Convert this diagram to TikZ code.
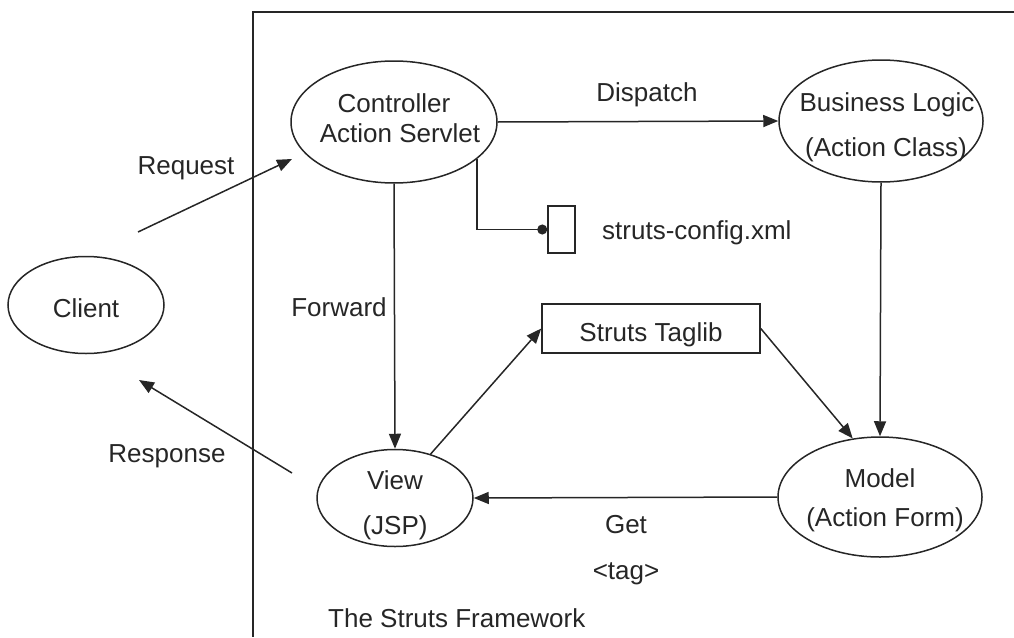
\documentclass[tikz,border=0pt]{standalone}
\usepackage{fontspec}
\setmainfont{Liberation Sans}
\usetikzlibrary{shapes.geometric,arrows.meta}
\begin{document}
\begin{tikzpicture}[x=1pt,y=-1pt,
  ink/.style={line width=1.5pt, draw=black!85},
  arr/.style={ink, -{Triangle[length=15pt,width=12pt]}},
  oval/.style={ellipse, ink, inner sep=0pt},
  box/.style={rectangle, ink, inner sep=0pt},
  lbl/.style={font=\fontsize{26}{30}\selectfont, inner sep=0pt,
              text height=18.6pt, text depth=0pt, text=black!85}]
\useasboundingbox (0,0) rectangle (1014,637);

% framework boundary (open to the right and bottom)
\draw[ink] (1014,12) -- (253,12) -- (253,637);

% components
\node[oval, minimum width=206pt, minimum height=122pt] (ctrl)   at (394,122) {};
\node[oval, minimum width=204pt, minimum height=122pt] (biz)    at (881,121) {};
\node[oval, minimum width=156pt, minimum height=97pt]  (client) at (86,305)  {};
\node[oval, minimum width=156pt, minimum height=97pt]  (view)   at (395,498) {};
\node[oval, minimum width=204pt, minimum height=120pt] (model)  at (880,497) {};

\node[lbl] (ctrl-a)  at (394,103) {Controller};
\node[lbl] (ctrl-b)  at (400,133) {Action Servlet};
\node[lbl] (biz-a)   at (887,102) {Business Logic};
\node[lbl] (biz-b)   at (886,147) {(Action Class)};
\node[lbl] (client-a) at (86,308) {Client};
\node[lbl] (view-a)  at (395,480) {View};
\node[lbl] (view-b)  at (395,525) {(JSP)};
\node[lbl] (model-a) at (880,478) {Model};
\node[lbl] (model-b) at (885,517) {(Action Form)};

\node[box, minimum width=27pt, minimum height=47pt] (cfg) at (561.5,229.5) {};
\node[box, minimum width=218pt, minimum height=49pt,
      font=\fontsize{26}{30}\selectfont, text=black!85,
      text height=25.6pt, text depth=0pt] (tag) at (651,328.5) {Struts Taglib};

% request / response with the client
\coordinate (rq-a) at (138,232);
\coordinate (rq-b) at (292,159);
\coordinate (rs-a) at (292,473);
\coordinate (rs-b) at (139,380);
\draw[arr] (rq-a) -- (rq-b);
\draw[arr] (rs-a) -- (rs-b);

% flows inside the framework
\draw[arr] (ctrl.east) -- (biz.west);
\draw[arr] (ctrl.south) -- (view.north);
\draw[ink, -{Circle[length=10pt]}] (ctrl.-24) |- (cfg.west);
\draw[arr] (view.51) -- (tag.west);
\draw[arr] (tag.east) -- (model.115);
\draw[arr] (biz.south) -- (model.north);
\draw[arr] (model.west) -- (view.east);

% labels
\node[lbl] (l-dispatch) at (647,92)  {Dispatch};
\node[lbl] (l-request)  at (186,165) {Request};
\node[lbl] (l-response) at (167,453) {Response};
\node[lbl] (l-forward)  at (339,307) {Forward};
\node[lbl] (l-get)      at (626,524) {Get};
\node[lbl] (l-tag)      at (626,570) {<tag>};
\node[lbl, anchor=west] (l-cfg)   at (602,230) {struts-config.xml};
\node[lbl, anchor=west] (l-frame) at (328,618) {The Struts Framework};
\end{tikzpicture}
\end{document}
